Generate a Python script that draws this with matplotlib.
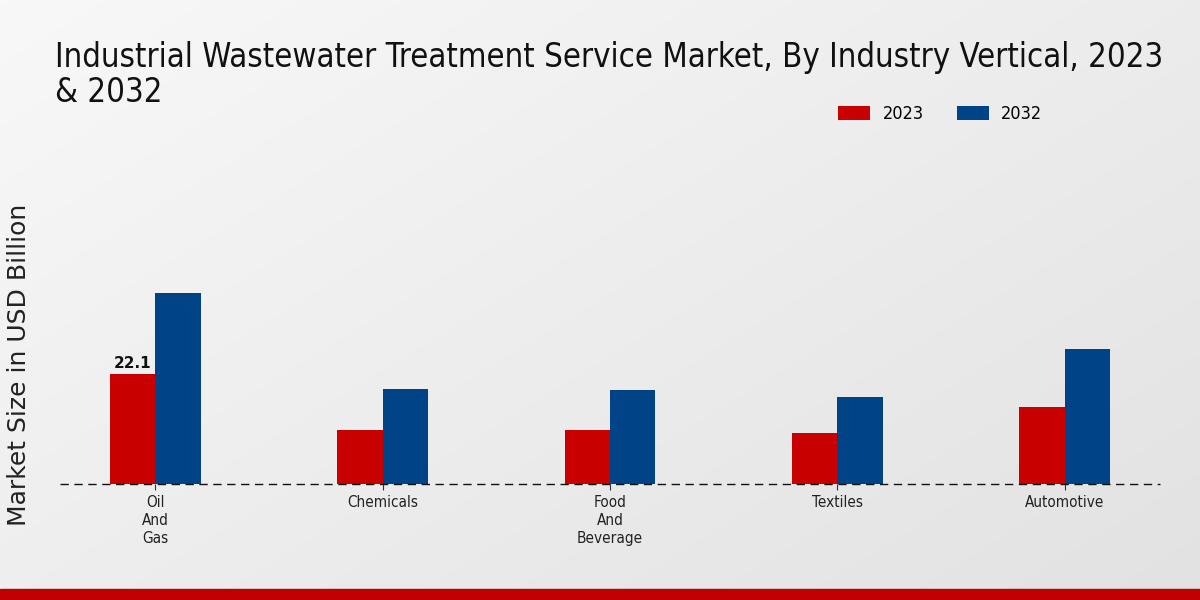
import numpy as np
import matplotlib
matplotlib.use("Agg")
import matplotlib.pyplot as plt
from matplotlib.patches import Rectangle

categories = ["Oil\nAnd\nGas", "Chemicals", "Food\nAnd\nBeverage", "Textiles", "Automotive"]
series_names = ["2023", "2032"]
values_2023 = [22.1, 10.8, 10.9, 10.3, 15.5]
values_2032 = [38.5, 19.2, 18.9, 17.5, 27.1]
colors = ["#c80000", "#004487"]

title_lines = ["Industrial Wastewater Treatment Service Market, By Industry Vertical, 2023", "& 2032"]
ylabel = "Market Size in USD Billion"

FAM = "DejaVu Sans"

fig = plt.figure(figsize=(12, 6), dpi=100)

# gradient background
bg = fig.add_axes([0, 0, 1, 1], zorder=-10)
yy, xx = np.mgrid[0:1:200j, 0:1:400j]
g = 0.55 * xx + 0.45 * yy
bg.imshow(g, cmap=matplotlib.colors.LinearSegmentedColormap.from_list("g", ["#f8f8f8", "#e2e2e2"]),
          aspect="auto", extent=[0, 1, 0, 1], origin="upper")
bg.axis("off")

fig.patches.append(Rectangle((0, 0), 1, 11/600, transform=fig.transFigure,
                             color="#c00000", zorder=5))

ax = fig.add_axes([0.05, 1 - 484/600, 1100/1200, 354/600])
ax.set_facecolor("none")
x = np.arange(len(categories))
w = 0.2
b1 = ax.bar(x - w/2, values_2023, w, color=colors[0], label=series_names[0])
b2 = ax.bar(x + w/2, values_2032, w, color=colors[1], label=series_names[1])

ax.text(x[0] - w/2, values_2023[0] + 0.6, f"{values_2023[0]}", ha="center", va="bottom",
        fontsize=11, fontweight="bold", color="#111111", family=FAM)

ax.set_xlim(-0.42, len(categories) - 1 + 0.42)
ax.set_ylim(0, 71.3)
ax.axhline(0, color="#111111", linestyle=(0, (6, 4)), linewidth=1.0, zorder=3, clip_on=False)
for s in ax.spines.values():
    s.set_visible(False)
ax.set_yticks([])
ax.set_xticks(x)
ax.set_xticklabels(categories, fontsize=11, fontstretch="condensed", family=FAM,
                   color="#222222", linespacing=1.25)
ax.tick_params(axis="x", length=4, color="#333333", pad=4)

for i, line in enumerate(title_lines):
    fig.text(0.0458, 0.932 - i * 0.0595, line, fontsize=23.6, fontstretch="condensed", family=FAM,
             color="#111111", va="top", ha="left")
fig.text(0.016, 1 - 365/600, ylabel, rotation=90, fontsize=18, color="#222222",
         va="center", ha="center", family=FAM)

leg = fig.legend(handles=[b1, b2], labels=series_names, loc="center left",
                 bbox_to_anchor=(0.685, 0.81), ncol=2, frameon=False,
                 handlelength=1.75, handleheight=0.8, columnspacing=1.85, handletextpad=0.7,
                 prop={"family": FAM, "stretch": "condensed", "size": 13})

fig.savefig("out.png", dpi=100)
